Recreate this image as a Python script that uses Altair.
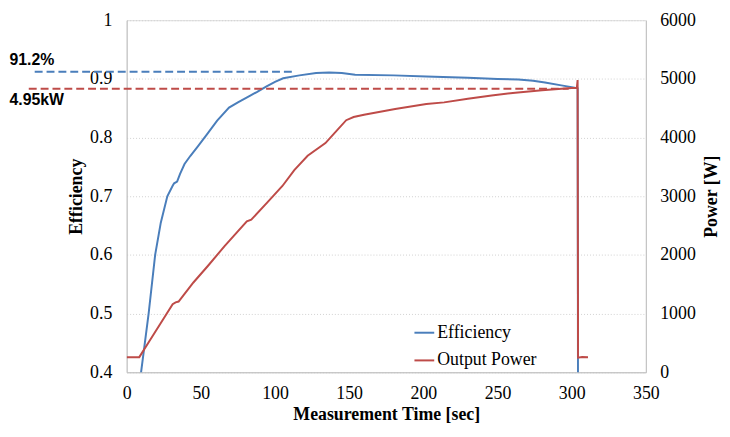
import altair as alt
import pandas as pd

# ---- data ----
eff_time = [9.0, 9.7, 14.8, 19.2, 23.0, 27.4, 31.0, 32.0, 34.0, 36.0, 39.0, 43.0, 48.0,
            54.0, 61.0, 69.0, 75.0, 83.0, 88.0, 94.0, 100.0, 105.5, 116.5, 127.7, 136.5,
            145.0, 154.0, 180.0, 202.0, 230.0, 250.0, 264.0, 274.0, 282.0, 293.0, 300.0,
            304.0, 304.3]
eff_value = [0.385, 0.40, 0.50, 0.60, 0.655, 0.70, 0.718, 0.722, 0.725, 0.738, 0.755, 0.769,
             0.785, 0.805, 0.829, 0.851, 0.860, 0.871, 0.878, 0.887, 0.895, 0.901, 0.906,
             0.910, 0.911, 0.910, 0.907, 0.906, 0.904, 0.902, 0.900, 0.899, 0.897, 0.894,
             0.889, 0.886, 0.884, 0.30]

pow_time = [0, 8.5, 16, 24.3, 31, 33, 35, 45, 55, 66, 81, 84, 95, 105, 113, 122, 134, 141,
            148, 153, 160, 181, 202, 214, 230, 246, 262, 280, 300, 303.5, 304, 304.3, 307, 311]
pow_value = [258, 258, 560, 890, 1160, 1191, 1205, 1530, 1820, 2150, 2571, 2600, 2900, 3175,
             3444, 3690, 3906, 4100, 4296, 4351, 4390, 4488, 4573, 4600, 4660, 4718, 4765,
             4807, 4845, 4850, 4980, 250, 262, 255]

series_names = ["Efficiency", "Output Power"]
series_colors = ["#4A7EBB", "#BE4B48"]

x_ticks = [0, 50, 100, 150, 200, 250, 300, 350]
eff_ticks = [0.4, 0.5, 0.6, 0.7, 0.8, 0.9, 1]
pow_ticks = [0, 1000, 2000, 3000, 4000, 5000, 6000]

# annotations (data units)
eff_ref = {"x": -62, "x2": 112, "y": 0.912, "label": "91.2%", "lx": -79, "ly": 0.932}
pow_ref = {"x": -66, "x2": 298, "y": 4834, "label": "4.95kW", "lx": -79, "ly": 4640}

eff_df = pd.DataFrame({"t": eff_time, "v": eff_value, "s": series_names[0]})
pow_df = pd.DataFrame({"t": pow_time, "v": pow_value, "s": series_names[1]})
eff_ann = pd.DataFrame([eff_ref])
pow_ann = pd.DataFrame([pow_ref])

SERIF = "Liberation Serif"
SANS = "Liberation Sans"

x_scale = alt.Scale(domain=[0, 350], nice=False, zero=False)
eff_scale = alt.Scale(domain=[0.4, 1.0], nice=False, zero=False)
pow_scale = alt.Scale(domain=[0, 6000], nice=False)
color_scale = alt.Scale(domain=series_names, range=series_colors)

x_axis = alt.Axis(values=x_ticks, title="Measurement Time [sec]", grid=False,
                  ticks=False, tickSize=0, labelPadding=13, titlePadding=3,
                  domainColor="#BFBFBF", labelFont=SERIF, labelFontSize=18,
                  labelFontWeight="normal", labelColor="black",
                  titleFont=SERIF, titleFontSize=18, titleFontWeight="bold",
                  titleColor="black", labelFlush=False)

eff_axis = alt.Axis(values=eff_ticks, format="~g", title="Efficiency", orient="left",
                    grid=True, gridColor="#D0D0D0", gridDash=[1, 2], gridWidth=1,
                    ticks=False, tickSize=0, labelPadding=15, titlePadding=4,
                    domainColor="#BFBFBF", labelFont=SERIF,
                    labelFontSize=18, labelColor="black", titleFont=SERIF,
                    titleFontSize=18, titleFontWeight="bold", titleColor="black",
                    labelFlush=False)

pow_axis = alt.Axis(values=pow_ticks, format="d", title="Power [W]", orient="right",
                    grid=False, ticks=False, tickSize=0, labelPadding=14, titlePadding=7,
                    titleAngle=270, titleBaseline="top", domainColor="#BFBFBF",
                    labelFont=SERIF, labelFontSize=18, labelColor="black",
                    titleFont=SERIF, titleFontSize=18, titleFontWeight="bold",
                    titleColor="black", labelFlush=False)

legend = alt.Legend(title=None, orient="none", legendX=290, legendY=305,
                    symbolType="stroke", symbolSize=400, symbolStrokeWidth=2,
                    symbolOffset=0, labelOffset=2, labelFont=SERIF, labelFontSize=18,
                    labelColor="black", rowPadding=8, padding=0)

eff_line = alt.Chart(eff_df).mark_line(strokeWidth=2, clip=True).encode(
    x=alt.X("t:Q", scale=x_scale, axis=x_axis),
    y=alt.Y("v:Q", scale=eff_scale, axis=eff_axis),
    color=alt.Color("s:N", scale=color_scale, legend=legend),
)

eff_rule = alt.Chart(eff_ann).mark_rule(color="#4A7EBB", strokeWidth=2,
                                        strokeDash=[8, 4], clip=False).encode(
    x=alt.X("x:Q", scale=x_scale),
    x2="x2:Q",
    y=alt.Y("y:Q", scale=eff_scale),
)

eff_text = alt.Chart(eff_ann).mark_text(align="left", baseline="middle", font=SANS,
                                        fontSize=16, fontWeight="bold", color="black",
                                        clip=False).encode(
    x=alt.X("lx:Q", scale=x_scale),
    y=alt.Y("ly:Q", scale=eff_scale),
    text="label:N",
)

pow_line = alt.Chart(pow_df).mark_line(strokeWidth=2, clip=True).encode(
    x=alt.X("t:Q", scale=x_scale, axis=x_axis),
    y=alt.Y("v:Q", scale=pow_scale, axis=pow_axis),
    color=alt.Color("s:N", scale=color_scale, legend=legend),
)

pow_rule = alt.Chart(pow_ann).mark_rule(color="#BE4B48", strokeWidth=2,
                                        strokeDash=[8, 4], clip=False).encode(
    x=alt.X("x:Q", scale=x_scale),
    x2="x2:Q",
    y=alt.Y("y:Q", scale=pow_scale),
)

pow_text = alt.Chart(pow_ann).mark_text(align="left", baseline="middle", font=SANS,
                                        fontSize=16, fontWeight="bold", color="black",
                                        clip=False).encode(
    x=alt.X("lx:Q", scale=x_scale),
    y=alt.Y("ly:Q", scale=pow_scale),
    text="label:N",
)

left_layer = alt.layer(eff_line, eff_rule, eff_text)
right_layer = alt.layer(pow_line, pow_rule, pow_text)

chart = alt.layer(left_layer, right_layer).resolve_scale(
    y="independent"
).properties(
    width=525, height=356,
    autosize=alt.AutoSizeParams(type="none"),
    padding={"left": 120, "top": 10, "right": 77, "bottom": 55},
).configure_view(stroke=None).configure(background="white")

chart.save("out.html", embed_options={"renderer": "svg", "actions": False})
